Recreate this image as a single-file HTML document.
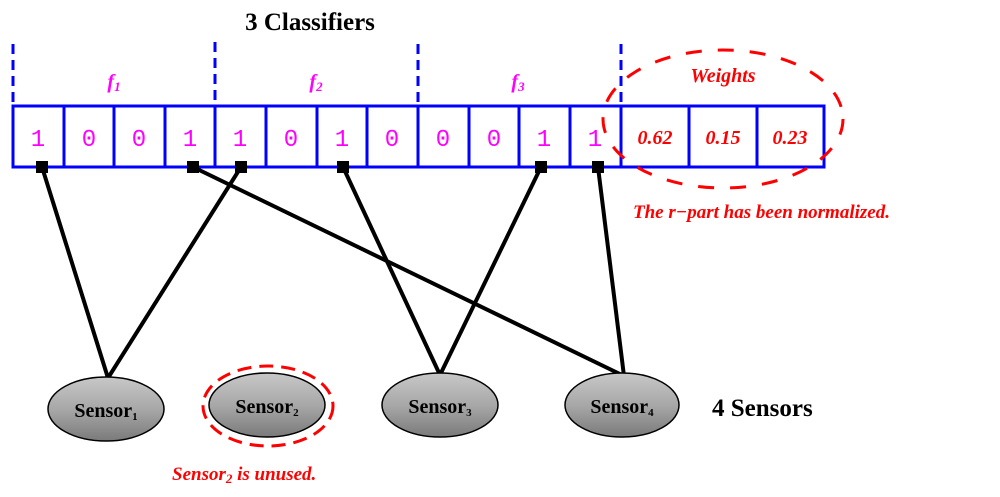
<!DOCTYPE html>
<html><head><style>body{margin:0;background:#fff}svg{display:block}</style></head><body>
<svg width="1000" height="497" xmlns="http://www.w3.org/2000/svg" font-family="Liberation Serif, serif">
<defs>
<linearGradient id="g" x1="0" y1="0" x2="0" y2="1">
<stop offset="0" stop-color="#c8c8c8"/><stop offset="0.5" stop-color="#a8a8a8"/><stop offset="1" stop-color="#7a7a7a"/>
</linearGradient>
</defs>
<text x="310" y="30" font-size="25" font-weight="bold" text-anchor="middle">3 Classifiers</text>
<g stroke="#0000ff" stroke-width="3" stroke-dasharray="10,6">
<line x1="13" y1="44" x2="13" y2="106"/><line x1="215" y1="42" x2="215" y2="106"/>
<line x1="418" y1="44" x2="418" y2="106"/><line x1="621" y1="44" x2="621" y2="106"/>
</g>
<g fill="#ff00ff" font-style="italic" font-weight="bold" font-size="20" text-anchor="middle">
<text x="114" y="88">f<tspan font-size="13" dy="3">1</tspan></text>
<text x="316" y="88">f<tspan font-size="13" dy="3">2</tspan></text>
<text x="518" y="88">f<tspan font-size="13" dy="3">3</tspan></text>
</g>
<rect x="13" y="106" width="811" height="61" fill="none" stroke="#0000ff" stroke-width="3"/>
<g stroke="#0000ff" stroke-width="3">
<line x1="64" y1="106" x2="64" y2="167"/><line x1="114" y1="106" x2="114" y2="167"/>
<line x1="165" y1="106" x2="165" y2="167"/><line x1="215" y1="106" x2="215" y2="167"/>
<line x1="266" y1="106" x2="266" y2="167"/><line x1="317" y1="106" x2="317" y2="167"/>
<line x1="367" y1="106" x2="367" y2="167"/><line x1="418" y1="106" x2="418" y2="167"/>
<line x1="469" y1="106" x2="469" y2="167"/><line x1="519" y1="106" x2="519" y2="167"/>
<line x1="570" y1="106" x2="570" y2="167"/><line x1="621" y1="106" x2="621" y2="167"/>
<line x1="689" y1="106" x2="689" y2="167"/><line x1="757" y1="106" x2="757" y2="167"/>
</g>
<g fill="#ff00ff" font-family="Liberation Mono, monospace" font-size="24" text-anchor="middle">
<text x="38" y="146">1</text><text x="89" y="146">0</text><text x="139" y="146">0</text><text x="190" y="146">1</text>
<text x="240" y="146">1</text><text x="291" y="146">0</text><text x="342" y="146">1</text><text x="392" y="146">0</text>
<text x="443" y="146">0</text><text x="494" y="146">0</text><text x="544" y="146">1</text><text x="595" y="146">1</text>
</g>
<g fill="#ff0000" font-style="italic" font-weight="bold" font-size="20" text-anchor="middle">
<text x="655" y="144">0.62</text><text x="723" y="144">0.15</text><text x="790" y="144">0.23</text>
<text x="723" y="82">Weights</text>
</g>
<ellipse cx="723" cy="119" rx="120" ry="69" fill="none" stroke="#ff0000" stroke-width="3" stroke-dasharray="16,16"/>
<text x="633" y="218" fill="#ff0000" font-style="italic" font-weight="bold" font-size="19">The r−part has been normalized.</text>
<g stroke="#000" stroke-width="4">
<line x1="42" y1="167" x2="108" y2="378"/><line x1="241" y1="167" x2="108" y2="378"/>
<line x1="193" y1="167" x2="624" y2="376"/><line x1="343" y1="167" x2="440" y2="375"/>
<line x1="541" y1="167" x2="440" y2="375"/><line x1="598" y1="167" x2="624" y2="376"/>
</g>
<g fill="#000">
<rect x="36" y="161" width="12" height="12"/><rect x="187" y="161" width="12" height="12"/>
<rect x="235" y="161" width="12" height="12"/><rect x="337" y="161" width="12" height="12"/>
<rect x="535" y="161" width="12" height="12"/><rect x="592" y="161" width="12" height="12"/>
</g>
<g stroke="#000" stroke-width="1.5" fill="url(#g)">
<ellipse cx="106" cy="409" rx="58" ry="32"/><ellipse cx="267" cy="405" rx="58" ry="32"/>
<ellipse cx="440" cy="405" rx="58" ry="32"/><ellipse cx="622" cy="405" rx="57" ry="32"/>
</g>
<ellipse cx="268" cy="406" rx="65" ry="40" fill="none" stroke="#ff0000" stroke-width="3" stroke-dasharray="14,8"/>
<g font-weight="bold" font-size="20" text-anchor="middle">
<text x="106" y="417">Sensor<tspan font-size="11" dy="3">1</tspan></text>
<text x="267" y="413">Sensor<tspan font-size="11" dy="3">2</tspan></text>
<text x="440" y="413">Sensor<tspan font-size="11" dy="3">3</tspan></text>
<text x="622" y="413">Sensor<tspan font-size="11" dy="3">4</tspan></text>
</g>
<text x="712" y="416" font-weight="bold" font-size="25">4  Sensors</text>
<text x="172" y="480" fill="#ff0000" font-style="italic" font-weight="bold" font-size="19">Sensor<tspan font-size="13" dy="3">2</tspan><tspan dy="-3"> is unused.</tspan></text>
</svg>
</body></html>
